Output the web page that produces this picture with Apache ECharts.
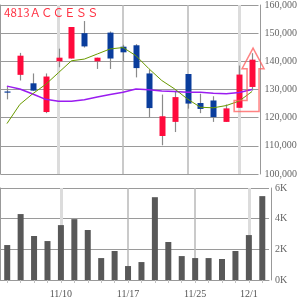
<!DOCTYPE html>
<html><head><meta charset="utf-8">
<script src="https://cdn.jsdelivr.net/npm/echarts@6/dist/echarts.min.js"></script>
<style>html,body{margin:0;padding:0;background:#fff}#c{width:300px;height:300px}</style>
</head><body><div id="c"></div>
<script>
const dates = ['11/4','11/5','11/6','11/7','11/10','11/11','11/12','11/13','11/14','11/17','11/18','11/19','11/20','11/21','11/25','11/26','11/27','11/28','12/1','12/2'];
const opens  = [129300,135200,132200,122000,140000,141000,150000,140000,150200,145200,145700,135700,113500,118500,135500,125200,126100,118500,123500,130900];
const closes = [129300,142000,129600,134600,141300,152200,145300,141300,141000,143200,137600,123400,120500,127300,125000,123100,120200,123300,135300,140600];
const lows   = [126500,133200,129500,121600,137900,141000,144900,137300,137300,139900,134300,120200,110200,114900,123200,121600,118500,118500,123500,129600];
const highs  = [131200,143000,135700,135700,144500,152200,154300,141300,150600,145900,146100,137000,128200,129600,135500,128500,127600,124700,138500,142900];
const volumes = [2280,4300,2870,2540,3580,3970,3260,1430,1890,910,1170,5400,2480,1560,1430,1430,1370,1890,2930,5470];
const maShort = [117900,124700,128500,131800,136000,140200,140800,142600,144400,144900,142000,137400,133200,130200,126600,123700,123500,124300,125900,129300];
const maLong  = [131200,130200,128400,126500,125800,125800,126400,127300,128200,129000,130200,129900,129500,129300,129000,129000,128700,128500,128900,130000];
const priceTicks = [100000,160000,10000];
const volTicks = [0,6000,2000];
const labelDates = ['11/10','11/17','11/25','12/1'];
const arrowLevels = {top:126100, bottom:122200, head:137400, tip:144700};

const UP='#ff0a3c', DOWN='#0a3d9c', WICK='#8a8a8a';
const FONT='"Liberation Sans Narrow"';
const chart = echarts.init(document.getElementById('c'), null, {renderer:'canvas'});
const candleData = dates.map((d,i)=>[i,opens[i],closes[i],lows[i],highs[i]]);

const vLines = [
  {xAxis:'11/10', lineStyle:{color:'#dcdcdc', width:3, type:'solid'}},
  {xAxis:'11/17', lineStyle:{color:'#b8b8b8', width:1.5, type:'solid'}},
  {xAxis:'11/25', lineStyle:{color:'#b8b8b8', width:1.5, type:'solid'}},
  {xAxis:'12/1',  lineStyle:{color:'#dcdcdc', width:3, type:'solid'}}
];
function vMark(){return {silent:true, z:1, symbol:'none', label:{show:false}, data:vLines.map(o=>Object.assign({},o))};}

const gL=0.5, gR=31;
const option = {
  animation:false,
  backgroundColor:'#fff',
  title:{text:'4813ＡＣＣＥＳＳ', left:4, top:7, padding:0, textStyle:{color:'#ff3344', fontSize:11.5, fontWeight:'normal', fontFamily:'"Noto Sans CJK JP",sans-serif'}},
  grid:[
    {left:gL, right:gR, top:4, height:170},
    {left:gL, right:gR, top:188, height:92}
  ],
  xAxis:[
    {type:'category', gridIndex:0, data:dates, boundaryGap:true, axisLine:{show:false}, axisTick:{show:false}, axisLabel:{show:false}, splitLine:{show:false}},
    {type:'category', gridIndex:1, data:dates, boundaryGap:true,
     axisLine:{show:true, lineStyle:{color:'#999'}},
     axisTick:{show:true, interval:0, alignWithLabel:true, length:3, lineStyle:{color:'#c0c0c0'}},
     axisLabel:{show:true, interval:(i,v)=>labelDates.indexOf(v)>=0, color:'#555', fontSize:10, fontFamily:FONT, margin:9},
     splitLine:{show:false}}
  ],
  yAxis:[
    {type:'value', gridIndex:0, position:'right', offset:2, min:priceTicks[0], max:priceTicks[1], interval:priceTicks[2],
     axisLine:{show:true, lineStyle:{color:'#999'}}, axisTick:{show:false},
     axisLabel:{color:'#666', fontSize:10, fontFamily:FONT, margin:4},
     splitLine:{show:true, lineStyle:{color:'#9a9a9a', width:1}}},
    {type:'value', gridIndex:0, position:'left', min:priceTicks[0], max:priceTicks[1], interval:priceTicks[2],
     axisLine:{show:true, lineStyle:{color:'#999'}}, axisTick:{show:false}, axisLabel:{show:false}, splitLine:{show:false}},
    {type:'value', gridIndex:1, position:'right', offset:2, min:volTicks[0], max:volTicks[1], interval:volTicks[2],
     axisLine:{show:true, lineStyle:{color:'#999'}}, axisTick:{show:false},
     axisLabel:{color:'#666', fontSize:10, fontFamily:FONT, margin:4, formatter:v=>(v/1000)+'K'},
     splitLine:{show:true, lineStyle:{color:'#9a9a9a', width:1}}},
    {type:'value', gridIndex:1, position:'left', min:volTicks[0], max:volTicks[1], interval:volTicks[2],
     axisLine:{show:true, lineStyle:{color:'#999'}}, axisTick:{show:false}, axisLabel:{show:false}, splitLine:{show:false}}
  ],
  series:[
    {type:'line', xAxisIndex:0, yAxisIndex:0, data:closes, symbol:'none', lineStyle:{opacity:0}, silent:true, z:1, markLine:vMark()},
    {type:'line', xAxisIndex:1, yAxisIndex:2, data:volumes, symbol:'none', lineStyle:{opacity:0}, silent:true, z:1, markLine:vMark()},
    {type:'custom', xAxisIndex:0, yAxisIndex:0, data:candleData, z:3,
     encode:{x:0, y:[1,2,3,4]},
     renderItem:function(params, api){
       const i=api.value(0), o=api.value(1), c=api.value(2), l=api.value(3), h=api.value(4);
       const po=api.coord([i,o]), pc=api.coord([i,c]), pl=api.coord([i,l]), ph=api.coord([i,h]);
       const x=Math.round(po[0]);
       const col = c>o?UP:DOWN;
       const top=Math.min(po[1],pc[1]), hgt=Math.max(Math.abs(po[1]-pc[1]),1.2);
       const bw = 6;
       return {type:'group', children:[
         {type:'line', shape:{x1:x+0.5,y1:ph[1],x2:x+0.5,y2:pl[1]}, style:{stroke:WICK, lineWidth:1.2}},
         {type:'rect', shape:{x:x-bw/2+0.5,y:top,width:bw,height:hgt}, style:{fill:col, stroke:null}}
       ]};
     }},
    {type:'line', xAxisIndex:0, yAxisIndex:0, data:maLong, symbol:'none', z:4, lineStyle:{color:'#9a1cf0', width:1.5}},
    {type:'line', xAxisIndex:0, yAxisIndex:0, data:maShort, symbol:'none', z:4, lineStyle:{color:'#6a9a00', width:1}},
    {type:'bar', xAxisIndex:1, yAxisIndex:2, data:volumes, barWidth:6, z:3, itemStyle:{color:'#585858'}}
  ]
};
chart.setOption(option);

function px(i,v){return chart.convertToPixel({xAxisIndex:0,yAxisIndex:0},[dates[i],v]);}
const x18=px(18,arrowLevels.top)[0], x19=px(19,arrowLevels.top)[0];
const yT=px(18,arrowLevels.top)[1], yB=px(18,arrowLevels.bottom)[1], yH=px(19,arrowLevels.head)[1], yP=px(19,arrowLevels.tip)[1];
chart.setOption({graphic:[{type:'polygon', z:10, silent:true,
  shape:{points:[[x18-5,yT],[x19-5,yT],[x19-5,yH],[x19-10,yH],[x19+1,yP],[x19+12,yH],[x19+7,yH],[x19+7,yB],[x18-5,yB]]},
  style:{fill:'rgba(255,255,255,0)', stroke:'rgba(255,90,90,0.75)', lineWidth:1.5}}]});
</script></body></html>
